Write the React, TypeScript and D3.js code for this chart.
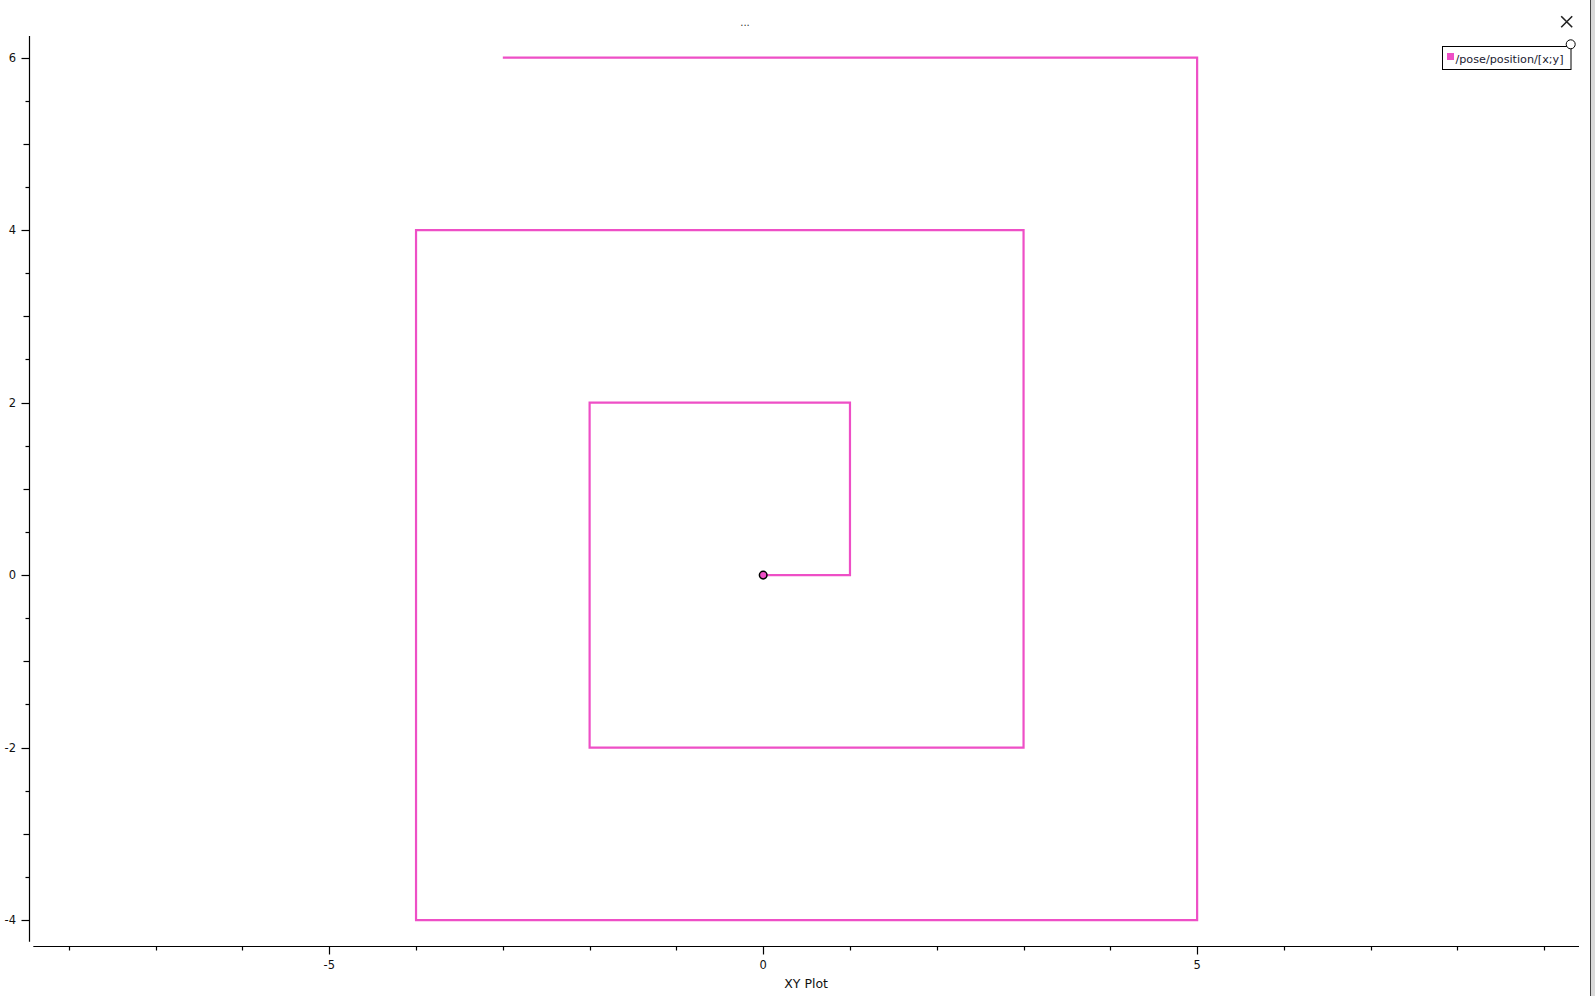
import { useEffect, useRef } from 'react'
import * as d3 from 'd3'

// trajectory samples (x, y), last sample is the current position marker
const pathX = [0, 1, 1, -2, -2, 3, 3, -4, -4, 5, 5, -3]
const pathY = [0, 0, 2, 2, -2, -2, 4, 4, -4, -4, 6, 6]
const markerX = 0
const markerY = 0

const xMajorTicks = [-5, 0, 5]
const xMinorTicks = [-8, -7, -6, -4, -3, -2, -1, 1, 2, 3, 4, 6, 7, 8, 9]
const yMajorTicks = [-4, -2, 0, 2, 4, 6]
const yMidTicks = [-3, -1, 1, 3, 5]
const yMinorTicks = [-3.5, -2.5, -1.5, -0.5, 0.5, 1.5, 2.5, 3.5, 4.5, 5.5]

const seriesName = '/pose/position/[x;y]'
const xAxisTitle = 'XY Plot'
const plotTitle = '...'

const W = 1595
const H = 996
const lineColor = '#ee4fc6'
const font = '"DejaVu Sans", sans-serif'

export default function App() {
  const ref = useRef<SVGSVGElement>(null)

  useEffect(() => {
    if (!ref.current) return
    const svg = d3.select(ref.current)
    svg.selectAll('*').remove()

    const x = d3.scaleLinear().domain([-8.41, 9.4]).range([33.3, 1579])
    const y = d3.scaleLinear().domain([-4.25, 6.25]).range([941.7, 36])

    svg.append('rect').attr('width', W).attr('height', H).attr('fill', '#fff')

    // y axis
    const yAxisX = 29.5
    const ya = svg.append('g').attr('stroke', '#000').attr('stroke-width', 1.2)
    ya.append('line')
      .attr('x1', yAxisX).attr('x2', yAxisX)
      .attr('y1', y(-4.25)).attr('y2', y(6.25))
    const yTick = (vals: number[], len: number) => {
      ya.selectAll(null)
        .data(vals)
        .enter()
        .append('line')
        .attr('x1', yAxisX - len).attr('x2', yAxisX)
        .attr('y1', (d) => Math.round(y(d)) + 0.5)
        .attr('y2', (d) => Math.round(y(d)) + 0.5)
    }
    yTick(yMajorTicks, 8)
    yTick(yMidTicks, 6)
    yTick(yMinorTicks, 4)

    svg.append('g')
      .selectAll('text')
      .data(yMajorTicks)
      .enter()
      .append('text')
      .attr('x', 16)
      .attr('y', (d) => y(d))
      .attr('dy', '0.36em')
      .attr('text-anchor', 'end')
      .style('font-family', font)
      .style('font-size', '11.5px')
      .style('fill', '#111')
      .text((d) => d)

    // x axis
    const xAxisY = 946.5
    const xa = svg.append('g').attr('stroke', '#000').attr('stroke-width', 1.2)
    xa.append('line')
      .attr('x1', x(-8.41)).attr('x2', x(9.4))
      .attr('y1', xAxisY).attr('y2', xAxisY)
    const xTick = (vals: number[], len: number) => {
      xa.selectAll(null)
        .data(vals)
        .enter()
        .append('line')
        .attr('x1', (d) => Math.round(x(d)) + 0.5)
        .attr('x2', (d) => Math.round(x(d)) + 0.5)
        .attr('y1', xAxisY).attr('y2', xAxisY + len)
    }
    xTick(xMajorTicks, 8)
    xTick(xMinorTicks, 4)

    svg.append('g')
      .selectAll('text')
      .data(xMajorTicks)
      .enter()
      .append('text')
      .attr('x', (d) => x(d))
      .attr('y', 968.5)
      .attr('text-anchor', 'middle')
      .style('font-family', font)
      .style('font-size', '11.5px')
      .style('fill', '#111')
      .text((d) => d)

    svg.append('text')
      .attr('x', (x(-8.41) + x(9.4)) / 2)
      .attr('y', 987.5)
      .attr('text-anchor', 'middle')
      .style('font-family', font)
      .style('font-size', '12.5px')
      .style('fill', '#111')
      .text(xAxisTitle)

    svg.append('text')
      .attr('x', 745)
      .attr('y', 26)
      .attr('text-anchor', 'middle')
      .style('font-family', font)
      .style('font-size', '10px')
      .style('fill', '#333')
      .text(plotTitle)

    // trajectory
    const pts = pathX.map((d, i) => [d, pathY[i]] as [number, number])
    const line = d3.line<[number, number]>()
      .x((d) => x(d[0]))
      .y((d) => y(d[1]))
    svg.append('path')
      .attr('d', line(pts))
      .attr('fill', 'none')
      .attr('stroke', lineColor)
      .attr('stroke-width', 2.2)

    svg.append('circle')
      .attr('cx', x(markerX))
      .attr('cy', y(markerY))
      .attr('r', 3.8)
      .attr('fill', lineColor)
      .attr('stroke', '#000')
      .attr('stroke-width', 1.5)

    // legend
    const lg = svg.append('g')
    lg.append('rect')
      .attr('x', 1442.5).attr('y', 46.5)
      .attr('width', 128.5).attr('height', 23)
      .attr('fill', '#fff').attr('stroke', '#000')
    lg.append('rect')
      .attr('x', 1447).attr('y', 53)
      .attr('width', 7).attr('height', 7)
      .attr('fill', lineColor)
    lg.append('text')
      .attr('x', 1455.5).attr('y', 62.5)
      .style('font-family', font)
      .style('font-size', '11.2px')
      .style('fill', '#1a1a30')
      .text(seriesName)
    lg.append('circle')
      .attr('cx', 1570.7).attr('cy', 44.3).attr('r', 4.5)
      .attr('fill', '#fff').attr('stroke', '#000')

    // close button
    const cx = 1566.7
    const cy = 21.7
    const s = 5.5
    svg.append('path')
      .attr('d', `M${cx - s},${cy - s}L${cx + s},${cy + s}M${cx + s},${cy - s}L${cx - s},${cy + s}`)
      .attr('stroke', '#222')
      .attr('stroke-width', 1.6)

    // right frame edge
    svg.append('rect').attr('x', 1591).attr('y', 0).attr('width', 4).attr('height', H).attr('fill', '#d9d9d9')
    svg.append('line')
      .attr('x1', 1590.5).attr('x2', 1590.5)
      .attr('y1', 0).attr('y2', H)
      .attr('stroke', '#444')
  }, [])

  return (
    <div style={{ position: 'absolute', left: 0, top: 0, width: W, height: H }}>
      <svg ref={ref} width={W} height={H} style={{ display: 'block' }} />
    </div>
  )
}
